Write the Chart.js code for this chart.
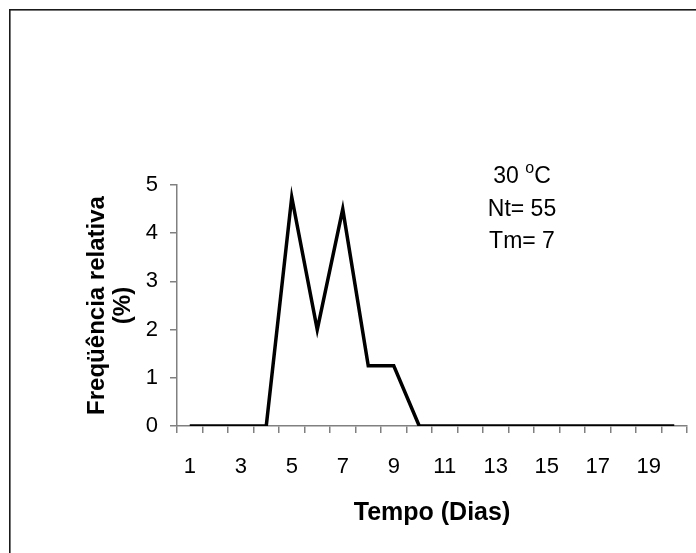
<!DOCTYPE html>
<html>
<head>
<meta charset="utf-8">
<script src="https://cdn.jsdelivr.net/npm/chart.js@4/dist/chart.umd.min.js"></script>
<style>
  html, body { margin: 0; padding: 0; background: #fff; }
  #wrap { width: 696px; height: 553px; }
</style>
</head>
<body>
<div id="wrap"><canvas id="c" width="696" height="553"></canvas></div>
<script>
// ---- data ----
const days = ['1','2','3','4','5','6','7','8','9','10','11','12','13','14','15','16','17','18','19','20'];
const freq = [0, 0, 0, 0, 4.75, 2, 4.5, 1.25, 1.25, 0, 0, 0, 0, 0, 0, 0, 0, 0, 0, 0];
const shownDays = ['1','3','5','7','9','11','13','15','17','19'];
const yMin = 0, yMax = 5, yStep = 1;
const xTitle = 'Tempo (Dias)';
const yTitle = ['Freqüência relativa', '(%)'];
const noteTemp = '30', noteDeg = 'o', noteUnit = 'C';
const noteLines = ['Nt= 55', 'Tm= 7'];

const FONT = "Arial, 'Liberation Sans', Helvetica, sans-serif";
const AXIS = '#808080';

const framePlugin = {
  id: 'frame',
  beforeDraw(chart) {
    const ctx = chart.ctx;
    ctx.save();
    ctx.fillStyle = '#fff';
    ctx.fillRect(0, 0, chart.width, chart.height);
    ctx.strokeStyle = '#1a1a1a';
    ctx.lineWidth = 1.6;
    ctx.strokeRect(9.8, 9.8, chart.width + 20, chart.height + 20);
    ctx.restore();
  }
};

const notePlugin = {
  id: 'note',
  afterDraw(chart) {
    const ctx = chart.ctx;
    const cx = 522;
    ctx.save();
    ctx.fillStyle = '#000';
    ctx.textBaseline = 'alphabetic';
    ctx.font = '23px ' + FONT;
    const w1 = ctx.measureText(noteTemp + ' ').width;
    ctx.font = '16px ' + FONT;
    const w2 = ctx.measureText(noteDeg).width;
    ctx.font = '23px ' + FONT;
    const w3 = ctx.measureText(noteUnit).width;
    let x = cx - (w1 + w2 + w3) / 2;
    const y0 = 183;
    ctx.textAlign = 'left';
    ctx.fillText(noteTemp + ' ', x, y0);
    x += w1;
    ctx.font = '16px ' + FONT;
    ctx.fillText(noteDeg, x, y0 - 10);
    x += w2;
    ctx.font = '23px ' + FONT;
    ctx.fillText(noteUnit, x, y0);
    ctx.textAlign = 'center';
    noteLines.forEach((t, i) => ctx.fillText(t, cx, y0 + 32.5 * (i + 1)));
    ctx.restore();
  }
};

new Chart(document.getElementById('c'), {
  type: 'line',
  data: {
    labels: days,
    datasets: [{
      data: freq,
      borderColor: '#000',
      borderWidth: 3.5,
      pointRadius: 0,
      pointHoverRadius: 0,
      tension: 0,
      fill: false
    }]
  },
  options: {
    responsive: false,
    animation: false,
    devicePixelRatio: 1,
    layout: { padding: { left: 10, right: 9, top: 185, bottom: 0 } },
    plugins: { legend: { display: false }, tooltip: { enabled: false } },
    scales: {
      x: {
        type: 'category',
        offset: true,
        grid: { offset: true, drawOnChartArea: false, drawTicks: true, tickLength: 7, color: AXIS, lineWidth: 1.5 },
        border: { display: true, color: AXIS, width: 1.5 },
        ticks: {
          autoSkip: false, maxRotation: 0, minRotation: 0,
          color: '#000', font: { family: FONT, size: 22 }, padding: 21,
          callback: function (v, i) { const l = this.getLabelForValue(v); return shownDays.includes(l) ? l : ''; }
        },
        title: { display: true, text: xTitle, color: '#000', font: { family: FONT, size: 25, weight: 'bold', lineHeight: 1.2 }, padding: { top: 0, bottom: 25 } },
        afterFit(s) { s.height = 127; }
      },
      y: {
        min: yMin, max: yMax,
        grid: { drawOnChartArea: false, drawTicks: true, tickLength: 7, color: AXIS, lineWidth: 1.5 },
        border: { display: true, color: AXIS, width: 1.5 },
        ticks: { stepSize: yStep, color: '#000', font: { family: FONT, size: 22 }, padding: 12 },
        title: { display: true, text: yTitle, color: '#000', font: { family: FONT, size: 24, weight: 'bold', lineHeight: 1.1 }, padding: { top: 74, bottom: 0 } },
        afterFit(s) { s.width = 167; }
      }
    }
  },
  plugins: [framePlugin, notePlugin]
});
</script>
</body>
</html>
